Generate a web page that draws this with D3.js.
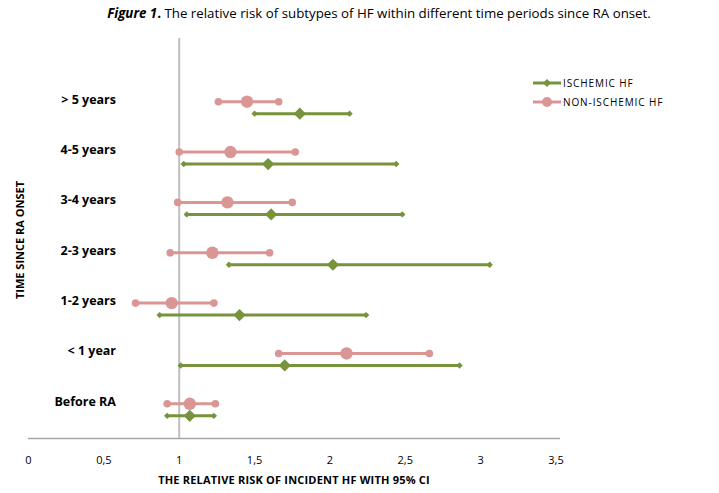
<!DOCTYPE html>
<html>
<head>
<meta charset="utf-8">
<script src="https://cdn.jsdelivr.net/npm/d3@7"></script>
<style>
  body { margin: 0; background: #fff; }
  svg { font-family: "Open Sans", "Noto Sans", sans-serif; }
</style>
</head>
<body>
<svg id="chart" width="719" height="493"></svg>
<script>
const categories = ['> 5 years', '4-5 years', '3-4 years', '2-3 years', '1-2 years', '< 1 year', 'Before RA'];
const xTicks = [0, 0.5, 1, 1.5, 2, 2.5, 3, 3.5];

// non-ischemic HF: relative risk and 95% CI
const nonIschemicRR = [1.45, 1.34, 1.32, 1.22, 0.95, 2.11, 1.07];
const nonIschemicLow = [1.26, 1.00, 0.99, 0.94, 0.71, 1.66, 0.92];
const nonIschemicHigh = [1.66, 1.77, 1.75, 1.60, 1.23, 2.66, 1.24];

// ischemic HF
const ischemicRR = [1.80, 1.59, 1.61, 2.02, 1.40, 1.70, 1.07];
const ischemicLow = [1.50, 1.03, 1.05, 1.33, 0.87, 1.01, 0.92];
const ischemicHigh = [2.13, 2.44, 2.48, 3.06, 2.24, 2.86, 1.23];

const green = '#77933c';
const pink = '#d99694';

const svg = d3.select('#chart');

const x = d3.scaleLinear().domain([0, 3.5]).range([28.5, 556]);
const y = d3.scaleBand().domain(categories).range([82.5, 435]);

// title
const title = svg.append('text')
  .attr('x', 379).attr('y', 18)
  .attr('text-anchor', 'middle')
  .attr('font-size', 13.3)
  .attr('fill', '#000');
title.append('tspan').attr('font-weight', 'bold').attr('font-style', 'italic').text('Figure 1');
title.append('tspan').attr('font-weight', 'bold').text('.');
title.append('tspan').text(' The relative risk of subtypes of HF within different time periods since RA onset.');

// axis line
svg.append('line')
  .attr('x1', 28).attr('x2', 560)
  .attr('y1', 438.5).attr('y2', 438.5)
  .attr('stroke', '#a6a6a6').attr('stroke-width', 1.5);

// reference line at 1
svg.append('line')
  .attr('x1', x(1)).attr('x2', x(1))
  .attr('y1', 38).attr('y2', 438)
  .attr('stroke', '#bfbfbf').attr('stroke-width', 2);

// tick labels
svg.append('g').selectAll('text')
  .data(xTicks)
  .join('text')
  .attr('x', (d) => x(d))
  .attr('y', 464)
  .attr('text-anchor', 'middle')
  .attr('font-size', 11)
  .text((d) => String(d).replace('.', ','));

svg.append('text')
  .attr('x', 294).attr('y', 484)
  .attr('text-anchor', 'middle')
  .attr('font-size', 11)
  .attr('font-weight', 'bold')
  .attr('letter-spacing', 0.2)
  .text('THE RELATIVE RISK OF INCIDENT HF WITH 95% CI');

// category labels
svg.append('g').selectAll('text')
  .data(categories)
  .join('text')
  .attr('x', 116)
  .attr('y', (d) => y(d) + y.bandwidth() / 2 - 4)
  .attr('text-anchor', 'end')
  .attr('font-size', 12.5)
  .attr('font-weight', 'bold')
  .text((d) => d);

svg.append('text')
  .attr('transform', 'translate(24,240) rotate(-90)')
  .attr('text-anchor', 'middle')
  .attr('font-size', 11)
  .attr('font-weight', 'bold')
  .text('TIME SINCE RA ONSET');

const diamond = d3.symbol().type(d3.symbolDiamond2);

function drawSeries(rr, low, high, color, offset, isCircle) {
  const rows = categories.map((c, i) => ({ c, rr: rr[i], low: low[i], high: high[i] }));
  const g = svg.append('g');
  const cy = (d) => y(d.c) + y.bandwidth() / 2 + offset;
  g.selectAll('line').data(rows).join('line')
    .attr('x1', (d) => x(d.low)).attr('x2', (d) => x(d.high))
    .attr('y1', cy).attr('y2', cy)
    .attr('stroke', color).attr('stroke-width', 3);
  for (const [key, size] of [['low', 1], ['high', 1], ['rr', 2]]) {
    if (isCircle) {
      g.selectAll(null).data(rows).join('circle')
        .attr('cx', (d) => x(d[key])).attr('cy', cy)
        .attr('r', size === 2 ? 6.2 : 3.8)
        .attr('fill', color);
    } else {
      g.selectAll(null).data(rows).join('path')
        .attr('transform', (d) => `translate(${x(d[key])},${cy(d)})`)
        .attr('d', diamond.size(size === 2 ? 95 : 26)())
        .attr('fill', color);
    }
  }
}

drawSeries(ischemicRR, ischemicLow, ischemicHigh, green, 6, false);
drawSeries(nonIschemicRR, nonIschemicLow, nonIschemicHigh, pink, -6, true);

// legend
const legend = [
  { label: 'ISCHEMIC HF', color: green, circle: false },
  { label: 'NON-ISCHEMIC HF', color: pink, circle: true }
];
const lg = svg.append('g').selectAll('g').data(legend).join('g')
  .attr('transform', (d, i) => `translate(533,${83 + i * 19})`);
lg.append('line').attr('x1', 0).attr('x2', 28).attr('stroke', (d) => d.color).attr('stroke-width', 3);
lg.filter((d) => d.circle).append('circle').attr('cx', 14).attr('r', 5).attr('fill', (d) => d.color);
lg.filter((d) => !d.circle).append('path').attr('transform', 'translate(14,0)')
  .attr('d', diamond.size(40)()).attr('fill', (d) => d.color);
lg.append('text').attr('x', 30).attr('y', 4).attr('font-size', 10)
  .attr('letter-spacing', 0.9).text((d) => d.label);
</script>
</body>
</html>
